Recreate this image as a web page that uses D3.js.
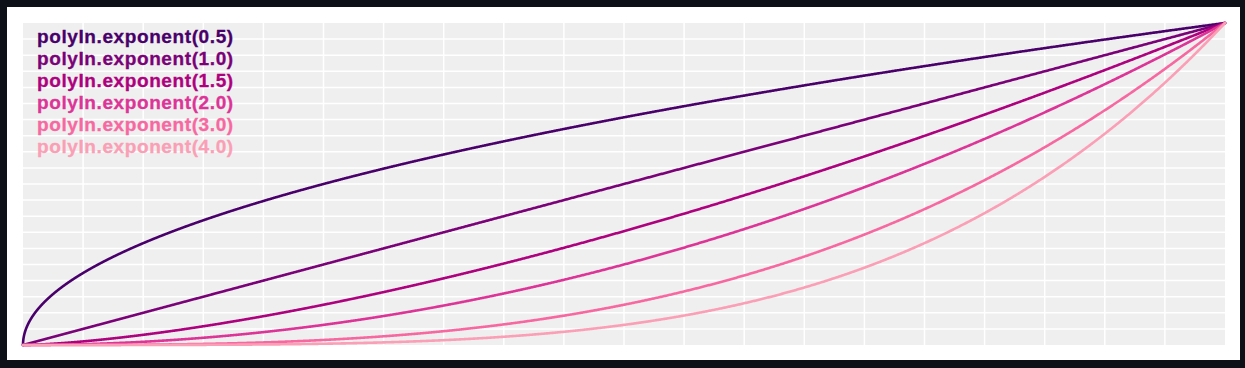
<!DOCTYPE html>
<html>
<head>
<meta charset="utf-8">
<script src="https://cdn.jsdelivr.net/npm/d3@7"></script>
<style>
  body { margin: 0; background: #0d1117; }
  svg { display: block; }
</style>
</head>
<body>
<div id="chart"></div>
<script>
// exponents of d3.easePolyIn shown in the chart
var exponents = [0.5, 1.0, 1.5, 2.0, 3.0, 4.0]
var labels = ['polyIn.exponent(0.5)', 'polyIn.exponent(1.0)', 'polyIn.exponent(1.5)',
              'polyIn.exponent(2.0)', 'polyIn.exponent(3.0)', 'polyIn.exponent(4.0)']
var colors = ['#49006a', '#7a0177', '#ae017e', '#dd3497', '#f768a1', '#fa9fb5']
var gridTicks = d3.range(0, 21).map(d => d / 20)

const W = 1245, H = 368
const margin = {top: 23, right: 20, bottom: 23, left: 23}
const width = W - margin.left - margin.right,
      height = H - margin.top - margin.bottom

const svg = d3.select('#chart').append('svg')
    .attr('width', W)
    .attr('height', H)

// white card
svg.append('rect')
    .attr('x', 7).attr('y', 7)
    .attr('width', 1233).attr('height', 353)
    .attr('fill', '#fff')

const g = svg.append('g')
    .attr('transform', `translate(${margin.left},${margin.top})`)

const xScale = d3.scaleLinear().domain([0, 1]).range([0, width])
const yScale = d3.scaleLinear().domain([0, 1]).range([height, 0])

g.append('rect')
    .attr('width', width).attr('height', height)
    .attr('fill', '#efefef')

// grid
g.append('g').selectAll('line')
    .data(gridTicks.slice(1, -1))
    .enter().append('line')
    .attr('x1', d => xScale(d)).attr('x2', d => xScale(d))
    .attr('y1', 0).attr('y2', height)
    .attr('stroke', '#fff').attr('stroke-width', 1.5)

g.append('g').selectAll('line')
    .data(gridTicks.slice(1, -1))
    .enter().append('line')
    .attr('y1', d => yScale(d)).attr('y2', d => yScale(d))
    .attr('x1', 0).attr('x2', width)
    .attr('stroke', '#fff').attr('stroke-width', 1.5)

// curves, sampled densely near 0 so the sqrt curve starts vertical
const ts = d3.range(0, 2001).map(i => Math.pow(i / 2000, 2))
const line = d3.line()
    .x(d => xScale(d[0]))
    .y(d => yScale(d[1]))

g.append('g').selectAll('path')
    .data(exponents)
    .enter().append('path')
    .attr('fill', 'none')
    .attr('stroke', (d, i) => colors[i])
    .attr('stroke-width', 2.6)
    .attr('stroke-linecap', 'round')
    .attr('d', e => {
        const ease = d3.easePolyIn.exponent(e)
        return line(ts.map(t => [t, ease(t)]))
    })

// legend
g.append('g').selectAll('text')
    .data(labels)
    .enter().append('text')
    .attr('x', 14)
    .attr('y', (d, i) => 20 + i * 22)
    .attr('font-family', 'Liberation Sans, Arial, sans-serif')
    .attr('font-weight', 'bold')
    .attr('font-size', 19)
    .attr('letter-spacing', 0.6)
    .attr('stroke', (d, i) => colors[i])
    .attr('stroke-width', 0.3)
    .attr('fill', (d, i) => colors[i])
    .text(d => d)
</script>
</body>
</html>
